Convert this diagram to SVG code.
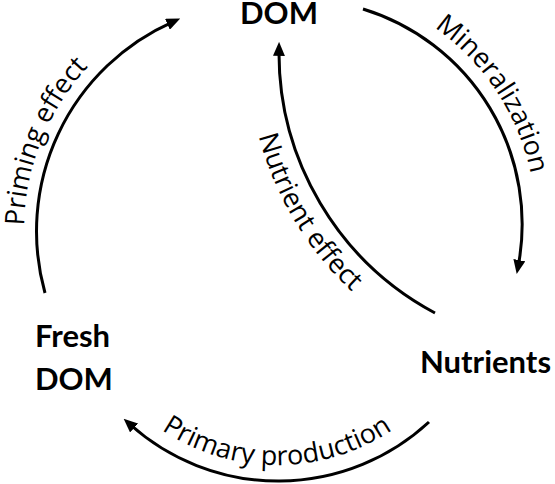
<svg xmlns="http://www.w3.org/2000/svg" width="555" height="484" viewBox="0 0 555 484">
<style>
.node{font-family:Lato,"Open Sans","Liberation Sans",sans-serif;font-weight:bold;font-size:31px;fill:#000}
.lbl{font-family:"Open Sans",Lato,"Liberation Sans",sans-serif;font-size:27px;fill:#000}
.arc{fill:none;stroke:#000;stroke-width:3}
</style>
<defs>
<marker id="ah" viewBox="0 0 14 12" refX="6" refY="6" markerWidth="14" markerHeight="12" markerUnits="userSpaceOnUse" orient="auto">
<path d="M0,0 L14,6 L0,12 z" fill="#000"/>
</marker>
<path id="tpPriming" d="M52.3,344.6 A242 242 0 0 1 191.2,0.8"/>
<path id="tpMineral" d="M343.5,-11.0 A238 238 0 0 1 530.6,272.4"/>
<path id="tpNutrient" d="M248,53 A326 326 0 0 0 419.9,340.3"/>
<path id="tpPrimary" d="M97.7,361.5 A207 207 0 0 0 456.3,361.5"/>
</defs>
<g id="node-dom"><text class="node" x="279" y="24" text-anchor="middle">DOM</text></g>
<g id="node-fresh"><text class="node" x="35" y="347">Fresh</text><text class="node" x="35" y="390">DOM</text></g>
<g id="node-nutrients"><text class="node" x="420" y="373">Nutrients</text></g>
<g id="connectors">
<path class="arc" d="M45,293 A229 229 0 0 1 172.9,21.8" marker-end="url(#ah)"/>
<path class="arc" d="M363,9 A225 225 0 0 1 518.2,266.1" marker-end="url(#ah)"/>
<path class="arc" d="M435,313 A295 295 0 0 1 279,49.9" marker-end="url(#ah)"/>
<path class="arc" d="M429,422 A222 222 0 0 1 129.6,424" marker-end="url(#ah)"/>
<text class="lbl"><textPath href="#tpPriming" startOffset="50%" text-anchor="middle">Priming effect</textPath></text>
<text class="lbl"><textPath href="#tpMineral" startOffset="50%" text-anchor="middle">Mineralization</textPath></text>
<text class="lbl"><textPath href="#tpNutrient" startOffset="50%" text-anchor="middle">Nutrient effect</textPath></text>
<text class="lbl"><textPath href="#tpPrimary" startOffset="50%" text-anchor="middle">Primary production</textPath></text>
</g>
</svg>
